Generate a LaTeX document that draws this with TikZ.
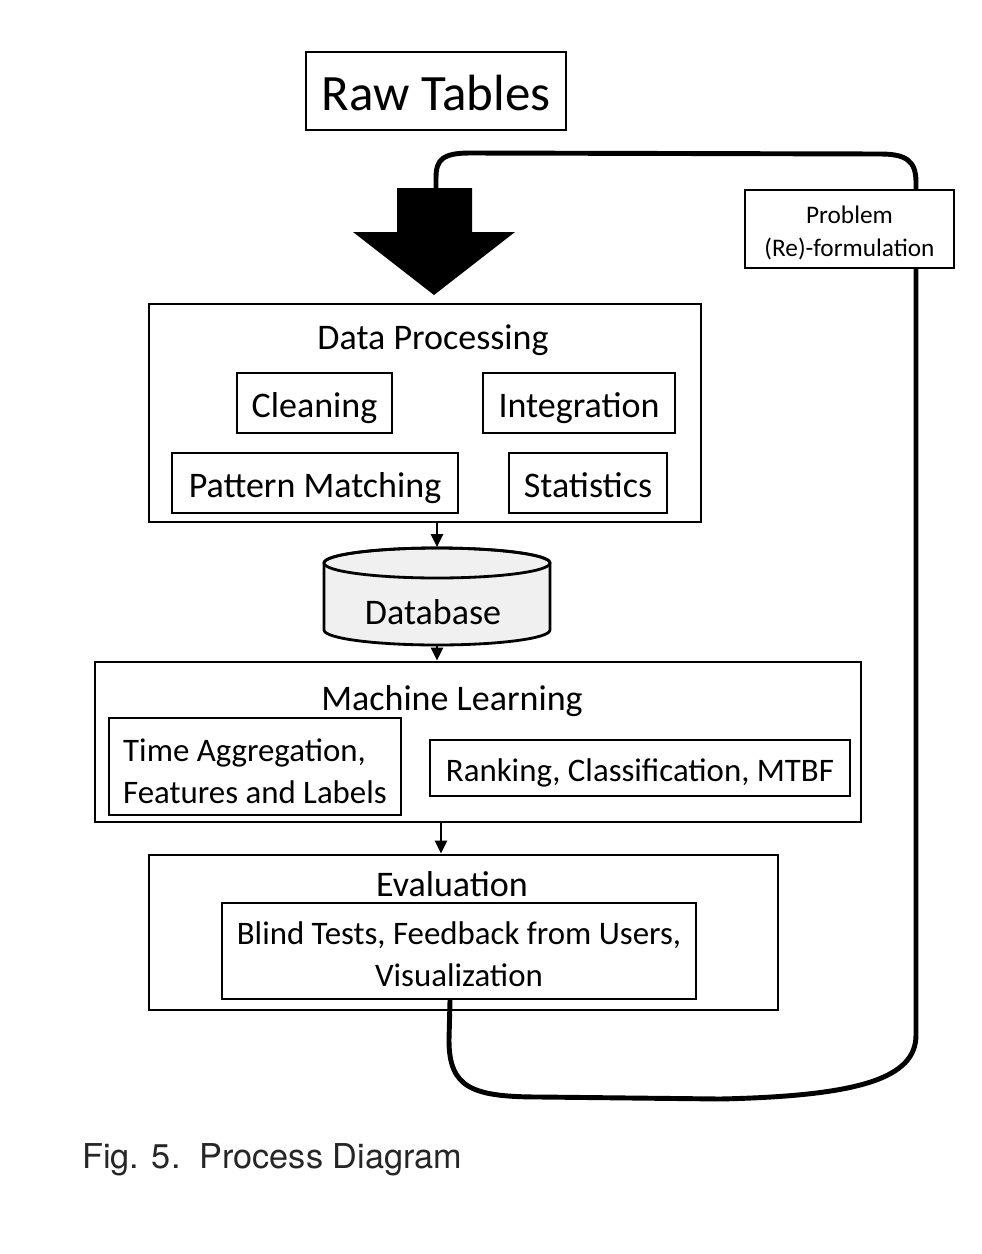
\documentclass[tikz,border=0pt]{standalone}
\usepackage{fontspec}
\setmainfont{Carlito}
\newfontfamily\capfont{TeX Gyre Heros}
\usetikzlibrary{arrows.meta}

\tikzset{
  box/.style={draw, line width=1.6pt, inner sep=0pt, align=center},
  onerow/.style={text height=#1, text depth=0pt},
  bigtext/.style={font=\fontsize{20.5}{24}\selectfont},
  midtext/.style={font=\fontsize{18.7}{24}\selectfont},
  smalltext/.style={font=\fontsize{14.4}{18.5}\selectfont},
  flowarrow/.style={line width=1.3pt, -{Triangle[length=2.6mm,width=2.4mm]}},
  loopline/.style={line width=2.8pt, line cap=round, line join=round}
}
\newcommand{\toprow}{\rule{0pt}{1em}}

\begin{document}
\begin{tikzpicture}[x=0.02cm, y=-0.02cm]
    \useasboundingbox (0,0) rectangle (982,1254);

    % Raw tables and the big input arrow
    \node[box, onerow=22.5pt, minimum width=5.2cm, minimum height=1.56cm, font=\fontsize{29}{34}\selectfont] (raw) at (436,91) {Raw Tables};
    \fill (397,188) -- (472,188) -- (472,232) -- (515,232) -- (434,295) -- (353,232) -- (397,232) -- cycle;
    \coordinate (arrowtop) at (436,188);

    % Data processing
    \node[box, minimum width=11.04cm, minimum height=4.36cm] (dp) at (425,413) {};
    \node[bigtext] (dptitle) at (433,340) {Data Processing};
    \node[box, bigtext, onerow=17pt, minimum width=3.1cm, minimum height=1.2cm] (clean) at (314.5,403) {Cleaning};
    \node[box, bigtext, onerow=17pt, minimum width=3.84cm, minimum height=1.2cm] (integ) at (579,403) {Integration};
    \node[box, bigtext, onerow=17pt, minimum width=5.72cm, minimum height=1.2cm] (pattern) at (315,483) {Pattern Matching};
    \node[box, bigtext, onerow=17pt, minimum width=3.16cm, minimum height=1.2cm] (stats) at (588,483) {Statistics};

    % Database
    \node[minimum width=4.52cm, minimum height=1.94cm] (db) at (437,596) {};
    \filldraw[fill=gray!12, line width=1.6pt] (324,563) -- (324,630)
        arc[start angle=180, end angle=360, x radius=2.26cm, y radius=0.3cm]
        -- (550,563)
        arc[start angle=0, end angle=180, x radius=2.26cm, y radius=0.3cm] -- cycle;
    \draw[line width=1.6pt] (437,563) ellipse [x radius=2.26cm, y radius=0.3cm];
    \node[bigtext] (dbtext) at (433,612) {Database};

    % Machine learning
    \node[box, minimum width=15.32cm, minimum height=3.2cm] (ml) at (478,742) {};
    \node[bigtext] (mltitle) at (452,701) {Machine Learning};
    \node[box, midtext, align=left, minimum width=5.84cm, minimum height=1.94cm] (timeagg) at (255,766.5) {\toprow Time Aggregation,\\Features and Labels};
    \node[box, midtext, onerow=14.8pt, minimum width=8.4cm, minimum height=1.12cm] (rank) at (640,768) {Ranking, Classification, MTBF};

    % Evaluation
    \node[box, minimum width=12.58cm, minimum height=3.1cm] (ev) at (463.5,932.5) {};
    \node[bigtext] (evtitle) at (452,884) {Evaluation};
    \node[box, midtext, minimum width=9.48cm, minimum height=1.92cm] (blind) at (459,951) {\rule{0pt}{0.9em}Blind Tests, Feedback from Users,\\Visualization};

    % Problem (re)-formulation
    \node[box, smalltext, minimum width=4.18cm, minimum height=1.56cm] (prob) at (849.5,229) {\toprow Problem\\(Re)-formulation};

    % Flow arrows
    \draw[flowarrow] (db.north |- dp.south) -- (db.north);
    \draw[flowarrow] (db.south) -- (db.south |- ml.north);
    \draw[flowarrow] ([xshift=-0.74cm]ml.south) -- ([xshift=-0.74cm]ml.south |- ev.north);

    % Feedback loop
    \draw[loopline] ([xshift=-0.18cm]blind.south) -- (449,1040)
        .. controls (449,1088) and (472,1097) .. (540,1097)
        -- (720,1099)
        .. controls (860,1096) and (916,1078) .. (916,1035)
        -- ([xshift=1.33cm]prob.south);
    \draw[loopline] ([xshift=1.33cm]prob.north) -- (916,182)
        .. controls (916,160) and (905,154) .. (880,154)
        -- (470,153)
        .. controls (442,153) and (436,160) .. (436,178)
        -- (arrowtop);

    % Caption
    \node[anchor=west, font=\capfont\fontsize{19.5}{23}\selectfont, text=black!85] (caption) at (76,1160) {Fig. 5.\ \ Process Diagram};
\end{tikzpicture}
\end{document}
